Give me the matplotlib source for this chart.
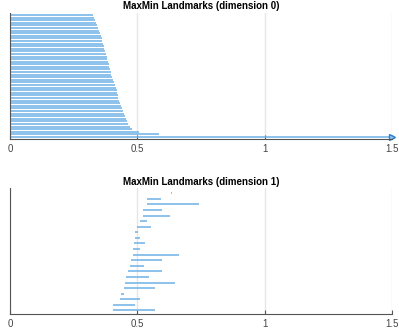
import matplotlib
matplotlib.use("Agg")
import matplotlib.pyplot as plt
import numpy as np

plt.rcParams['font.family'] = ['Liberation Sans', 'DejaVu Sans']

# dimension 0 intervals (births all 0), listed top to bottom; last one is infinite
dim0_deaths = [0.326, 0.331, 0.335, 0.339, 0.343, 0.346, 0.350, 0.354, 0.357, 0.360,
               0.362, 0.365, 0.369, 0.371, 0.374, 0.377, 0.379, 0.382, 0.384, 0.387,
               0.390, 0.392, 0.395, 0.398, 0.400, 0.403, 0.407, 0.411, 0.415, 0.419,
               0.421, 0.424, 0.426, 0.429, 0.432, 0.434, 0.438, 0.442, 0.446, 0.450,
               0.454, 0.459, 0.465, 0.472, 0.480, 0.505, 0.584, np.inf]

# dimension 1 intervals, listed top to bottom
dim1_births = [0.633, 0.538, 0.538, 0.522, 0.522, 0.512, 0.500, 0.491, 0.490, 0.486,
               0.484, 0.482, 0.476, 0.471, 0.465, 0.454, 0.450, 0.448, 0.437, 0.433,
               0.406, 0.406]
dim1_deaths = [0.636, 0.593, 0.744, 0.598, 0.629, 0.539, 0.552, 0.501, 0.512, 0.531,
               0.512, 0.665, 0.596, 0.526, 0.597, 0.547, 0.646, 0.568, 0.448, 0.512,
               0.491, 0.571]

xmax = 1.5
bar_color = '#6db1e6'


def plot_barcode(ax, births, deaths, title):
    n = len(births)
    for i, (b, d) in enumerate(zip(births, deaths)):
        y = n - i
        if np.isinf(d):
            ax.plot([b, xmax], [y, y], color=bar_color, lw=1.1, solid_capstyle='butt')
            ax.plot([xmax], [y], marker='>', ms=5, color='#2a7fd0',
                    markerfacecolor='#9cc8ee', clip_on=False)
        else:
            ax.plot([b, d], [y, y], color=bar_color, lw=1.1, solid_capstyle='butt')
    ax.set_xlim(0, xmax)
    ax.set_ylim(0.3, n + 0.9)
    ax.set_xticks([0, 0.5, 1, 1.5])
    ax.set_xticklabels(['0', '0.5', '1', '1.5'])
    ax.set_yticks([])
    ax.grid(True, axis='x', color='#e6e6e6', lw=1)
    ax.set_axisbelow(True)
    for s in ['top', 'right']:
        ax.spines[s].set_visible(False)
    for s in ['left', 'bottom']:
        ax.spines[s].set_color('#555555')
        ax.spines[s].set_linewidth(0.8)
    ax.tick_params(axis='x', direction='in', length=3, color='#555555',
                   labelsize=7, labelcolor='#444444', pad=3.5)
    ax.set_title(title, fontsize=7, fontweight='bold', pad=2.5)


fig = plt.figure(figsize=(3.99, 3.31), dpi=100)
ax0 = fig.add_axes([10 / 399, 1 - 138.7 / 331, 382 / 399, 126 / 331])
ax1 = fig.add_axes([10 / 399, 1 - 314.3 / 331, 382 / 399, 126 / 331])

plot_barcode(ax0, [0] * len(dim0_deaths), dim0_deaths, 'MaxMin Landmarks (dimension 0)')
plot_barcode(ax1, dim1_births, dim1_deaths, 'MaxMin Landmarks (dimension 1)')

fig.savefig('out.png', dpi=100)
